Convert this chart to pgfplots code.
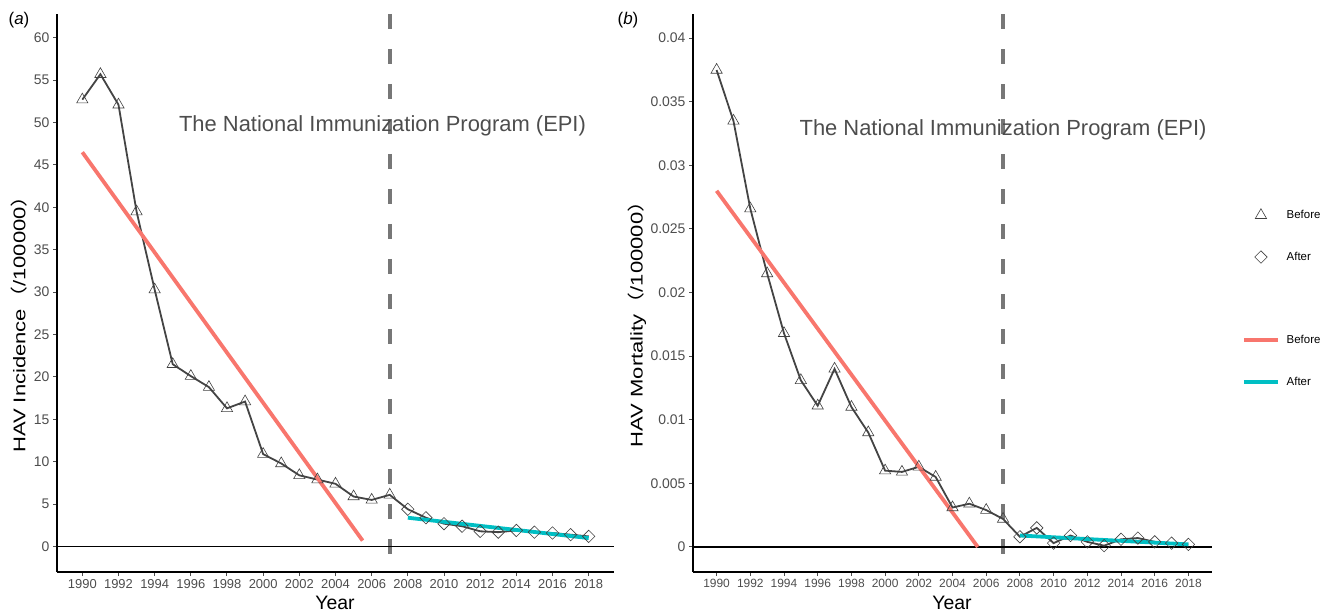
\documentclass[border=0pt]{standalone}
\usepackage{fontspec}
\setmainfont{Liberation Sans}
\newfontfamily\cjk{Noto Sans CJK SC}
\usepackage{pgfplots}
\pgfplotsset{compat=1.18}

\definecolor{ggred}{HTML}{F8766D}
\definecolor{ggcyan}{HTML}{00BFC4}
\definecolor{ticktxt}{HTML}{4D4D4D}
\definecolor{vline}{HTML}{777777}
\definecolor{series}{HTML}{444444}

\pgfplotsset{
  hav/.style={
    scale only axis, height=558bp,
    axis x line*=bottom, axis y line*=left,
    axis line style={black, line width=1.2bp},
    tick align=outside, major tick length=4bp,
    tick style={ticktxt, line width=1bp},
    xmin=1988.6, xmax=2019.4,
    xtick={1990,1992,...,2018},
    /pgf/number format/1000 sep={},
    /pgf/number format/assume math mode=true,
    tick label style={ticktxt},
    yticklabel style={font=\fontsize{14}{16}\selectfont},
    clip=false,
  },
  tri/.style={only marks, mark=triangle, mark size=6.5bp,
    mark options={draw=black!75, line width=0.6bp, fill=none}},
  dia/.style={only marks, mark=square, mark size=4.4bp,
    mark options={rotate=45, draw=black!75, line width=0.6bp, fill=none}},
  markentry/.style={legend image code/.code={\draw[##1] plot coordinates {(17bp,0bp)};}},
  lineentry/.style={legend image code/.code={\draw[##1] (0bp,0bp) -- (34bp,0bp);}},
}

\begin{document}
\begin{tikzpicture}
% ---------- (a) incidence ----------
\begin{axis}[hav, at={(57bp,-572bp)}, anchor=south west, width=557bp,
  ymin=-3, ymax=62.8, ytick={0,5,...,60},
  xticklabel style={font=\fontsize{13}{15}\selectfont}]
\addplot[vline, line width=4.5bp, dash pattern=on 15bp off 20bp, forget plot]
  coordinates {(2007,62.8) (2007,-3)};
\addplot[black, line width=1.2bp, forget plot] coordinates {(1988.6,0) (2019.4,0)};
\addplot[series, line width=1.8bp, forget plot] coordinates {
 (1990,52.7) (1991,55.7) (1992,52.1) (1993,39.5) (1994,30.3) (1995,21.5)
 (1996,20.1) (1997,18.8) (1998,16.3) (1999,17.1) (2000,10.9) (2001,9.8)
 (2002,8.4) (2003,7.9) (2004,7.4) (2005,5.9) (2006,5.5) (2007,6.1)
 (2008,4.4) (2009,3.4) (2010,2.7) (2011,2.4) (2012,1.8) (2013,1.7)
 (2014,1.9) (2015,1.7) (2016,1.6) (2017,1.4) (2018,1.2)};
\addplot[tri, forget plot] coordinates {
 (1990,52.7) (1991,55.7) (1992,52.1) (1993,39.5) (1994,30.3) (1995,21.5)
 (1996,20.1) (1997,18.8) (1998,16.3) (1999,17.1) (2000,10.9) (2001,9.8)
 (2002,8.4) (2003,7.9) (2004,7.4) (2005,5.9) (2006,5.5) (2007,6.1)};
\addplot[dia, forget plot] coordinates {
 (2008,4.4) (2009,3.4) (2010,2.7) (2011,2.4) (2012,1.8) (2013,1.7)
 (2014,1.9) (2015,1.7) (2016,1.6) (2017,1.4) (2018,1.2)};
\addplot[ggred, line width=3.8bp, forget plot] coordinates {(1990,46.5) (2005.5,0.7)};
\addplot[ggcyan, line width=3.8bp, forget plot] coordinates {(2008,3.4) (2018,1.0)};
\node[ticktxt, font=\fontsize{22}{24}\selectfont] at (axis cs:2006.6,49.6)
  {The National Immunization Program (EPI)};
\end{axis}

% ---------- (b) mortality ----------
\begin{axis}[hav, at={(693bp,-572bp)}, anchor=south west, width=519bp,
  ymin=-0.00197, ymax=0.0419,
  ytick={0,0.005,0.01,0.015,0.02,0.025,0.03,0.035,0.04},
  scaled y ticks=false,
  yticklabel style={/pgf/number format/fixed, /pgf/number format/precision=3},
  xticklabel style={font=\fontsize{12}{14}\selectfont},
  legend style={draw=none, fill=none, at={(1.052,0.490)}, anchor=west,
    font=\fontsize{11.5}{13}\selectfont, row sep=28bp, column sep=5bp},
  legend cell align=left]
\addplot[vline, line width=4.5bp, dash pattern=on 15bp off 20bp, forget plot]
  coordinates {(2007,0.0419) (2007,-0.00197)};
\addplot[black, line width=1.2bp, forget plot] coordinates {(1988.6,0) (2019.4,0)};
\addplot[series, line width=1.8bp, forget plot] coordinates {
 (1990,0.0375) (1991,0.0335) (1992,0.0266) (1993,0.0215) (1994,0.0168)
 (1995,0.0131) (1996,0.0111) (1997,0.0140) (1998,0.0110) (1999,0.0090)
 (2000,0.0060) (2001,0.0059) (2002,0.0063) (2003,0.0055) (2004,0.0031)
 (2005,0.0034) (2006,0.0029) (2007,0.0022) (2008,0.0008) (2009,0.0015)
 (2010,0.0003) (2011,0.0009) (2012,0.0004) (2013,0.0001) (2014,0.0006)
 (2015,0.0007) (2016,0.0004) (2017,0.0003) (2018,0.0002)};
\addplot[tri, forget plot] coordinates {
 (1990,0.0375) (1991,0.0335) (1992,0.0266) (1993,0.0215) (1994,0.0168)
 (1995,0.0131) (1996,0.0111) (1997,0.0140) (1998,0.0110) (1999,0.0090)
 (2000,0.0060) (2001,0.0059) (2002,0.0063) (2003,0.0055) (2004,0.0031)
 (2005,0.0034) (2006,0.0029) (2007,0.0022)};
\addplot[dia, forget plot] coordinates {
 (2008,0.0008) (2009,0.0015) (2010,0.0003) (2011,0.0009) (2012,0.0004)
 (2013,0.0001) (2014,0.0006) (2015,0.0007) (2016,0.0004) (2017,0.0003)
 (2018,0.0002)};
\addplot[ggred, line width=3.8bp, forget plot] coordinates {(1990,0.0280) (2005.5,0.0)};
\addplot[ggcyan, line width=3.8bp, forget plot] coordinates {(2008,0.0009) (2018,0.0002)};
\node[ticktxt, font=\fontsize{22}{24}\selectfont] at (axis cs:2007.0,0.0328)
  {The National Immunization Program (EPI)};
\addlegendimage{tri, markentry}\addlegendentry{Before}
\addlegendimage{dia, markentry}\addlegendentry{After}
\addlegendimage{empty legend}\addlegendentry{\phantom{A}}
\addlegendimage{ggred, line width=3.5bp, lineentry}\addlegendentry{Before}
\addlegendimage{ggcyan, line width=3.5bp, lineentry}\addlegendentry{After}
\end{axis}

% ---------- titles ----------
\node[font=\fontsize{17}{19}\selectfont] at (19bp,-20bp) {(\textit{a})};
\node[font=\fontsize{17}{19}\selectfont] at (628bp,-20bp) {(\textit{b})};
\node[font=\fontsize{19.5}{21}\selectfont] at (335bp,-603bp) {Year};
\node[font=\fontsize{19.5}{21}\selectfont] at (952bp,-603bp) {Year};
\node[font=\fontsize{17}{19}\selectfont, rotate=90, xscale=1.3] at (19bp,-319bp)
  {HAV Incidence{\cjk（}/100000{\cjk）}};
\node[font=\fontsize{17}{19}\selectfont, rotate=90, xscale=1.3] at (637bp,-319bp)
  {HAV Mortality{\cjk（}/100000{\cjk）}};

\pgfresetboundingbox
\path[use as bounding box] (0bp,0bp) rectangle (1336bp,-614bp);
\end{tikzpicture}
\end{document}
